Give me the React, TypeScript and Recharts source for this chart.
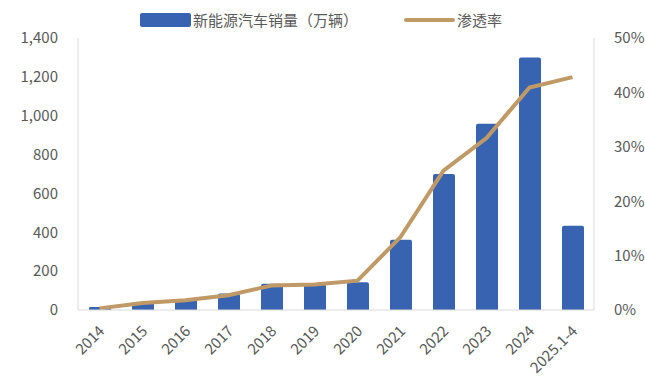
import {
  ComposedChart,
  Bar,
  Line,
  XAxis,
  YAxis,
} from "recharts";

const years = ["2014", "2015", "2016", "2017", "2018", "2019", "2020", "2021", "2022", "2023", "2024", "2025.1-4"];
const sales = [15, 40, 55, 85, 135, 133, 143, 362, 700, 958, 1300, 433];
const penetration = [0.3, 1.3, 1.8, 2.7, 4.5, 4.7, 5.4, 13.4, 25.6, 31.6, 40.9, 42.8];
const leftTicks = [0, 200, 400, 600, 800, 1000, 1200, 1400];
const rightTicks = [0, 10, 20, 30, 40, 50];

const BAR_COLOR = "#3763b1";
const LINE_COLOR = "#c09a66";
const TEXT_COLOR = "#595959";
const AXIS_COLOR = "#d9d9d9";
const FONT = "'Noto Sans CJK SC', 'Noto Sans', sans-serif";

const data = years.map((year, i) => ({
  year,
  sales: sales[i],
  rate: penetration[i],
}));

function XTick({ x, y, payload }: any) {
  return (
    <text
      x={x + 6}
      y={y + 14}
      textAnchor="end"
      fill={TEXT_COLOR}
      fontSize={15}
      fontFamily={FONT}
      transform={`rotate(-45, ${x + 6}, ${y + 14})`}
    >
      {payload.value}
    </text>
  );
}

function ChartLegend() {
  return (
    <div
      style={{
        position: "absolute",
        top: 9,
        left: 140,
        display: "flex",
        alignItems: "center",
        fontFamily: FONT,
        fontSize: 15,
        color: TEXT_COLOR,
        whiteSpace: "nowrap",
      }}
    >
      <span style={{ width: 51, height: 14, background: BAR_COLOR, borderRadius: 2, marginRight: 2 }} />
      <span>新能源汽车销量（万辆）</span>
      <span style={{ width: 51, height: 4, background: LINE_COLOR, borderRadius: 2, marginLeft: 46, marginRight: 2 }} />
      <span>渗透率</span>
    </div>
  );
}

export default function App() {
  return (
    <div style={{ position: "absolute", left: 0, top: 0, width: 645, height: 390, background: "#fff" }}>
      <ComposedChart
        width={645}
        height={390}
        data={data}
        margin={{ top: 38, right: 0, left: 0, bottom: 0 }}
      >
        <XAxis
          dataKey="year"
          height={80}
          interval={0}
          tick={<XTick />}
          tickLine={false}
          axisLine={{ stroke: AXIS_COLOR }}
        />
        <YAxis
          yAxisId="left"
          width={78}
          domain={[0, 1400]}
          ticks={leftTicks}
          tickFormatter={(v: number) => v.toLocaleString("en-US")}
          tick={{ fontSize: 15, fill: TEXT_COLOR, fontFamily: FONT }}
          tickLine={false}
          axisLine={{ stroke: AXIS_COLOR }}
          tickMargin={14}
        />
        <YAxis
          yAxisId="right"
          orientation="right"
          width={51}
          domain={[0, 50]}
          ticks={rightTicks}
          tickFormatter={(v: number) => `${v}%`}
          tick={{ fontSize: 15, fill: TEXT_COLOR, fontFamily: FONT }}
          tickLine={false}
          axisLine={{ stroke: AXIS_COLOR }}
          tickMargin={14}
        />
        <Bar
          yAxisId="left"
          dataKey="sales"
          fill={BAR_COLOR}
          barSize={22}
          radius={[2, 2, 0, 0]}
          isAnimationActive={false}
        />
        <Line
          yAxisId="right"
          dataKey="rate"
          type="linear"
          stroke={LINE_COLOR}
          strokeWidth={4}
          dot={false}
          isAnimationActive={false}
        />
      </ComposedChart>
      <ChartLegend />
    </div>
  );
}
